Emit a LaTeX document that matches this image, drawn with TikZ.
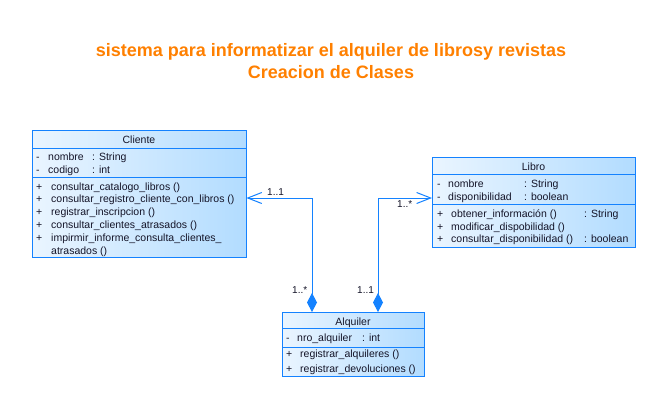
\documentclass[tikz,border=0pt]{standalone}
\usepackage{fontspec}
\setmainfont{Liberation Sans}
\usetikzlibrary{arrows.meta}
\definecolor{umlblue}{RGB}{20,130,255}
\definecolor{boxL}{RGB}{234,245,255}
\definecolor{boxR}{RGB}{178,220,255}
\definecolor{ttl}{RGB}{255,128,0}
\definecolor{txt}{RGB}{20,20,40}
\tikzset{
  comp/.style={draw=umlblue, line width=0.9pt, left color=boxL, right color=boxR},
  classnode/.style={draw=none, inner sep=0pt, anchor=north west},
  tx/.style={anchor=base west, inner sep=0pt, text=txt, font=\fontsize{10.5}{13}\selectfont},
  tc/.style={anchor=base, inner sep=0pt, text=txt, font=\fontsize{10.5}{13}\selectfont},
  mult/.style={anchor=base west, inner sep=0pt, text=txt, font=\fontsize{10}{12}\selectfont},
  ttlstyle/.style={anchor=base, inner sep=0pt, text=ttl, font=\bfseries\fontsize{18}{22}\selectfont},
  assoc/.style={draw=umlblue, line width=1pt,
    {Diamond[length=19pt,width=10pt,fill=umlblue]}-{Straight Barb[length=14pt,width=11pt]}},
}
\begin{document}
\begin{tikzpicture}[x=1pt,y=-1pt]
\useasboundingbox (0,0) rectangle (658,408);
\fill[white] (0,0) rectangle (658,408);

% title
\node[ttlstyle] (t1) at (331,56) {sistema para informatizar el alquiler de librosy revistas};
\node[ttlstyle] (t2) at (331,78) {Creacion de Clases};

% ---- Cliente ----
\path[comp] (32,130) rectangle (246,148);
\path[comp] (32,148) rectangle (246,177);
\path[comp] (32,177) rectangle (246,257);
\node[classnode, minimum width=214pt, minimum height=127pt] (cli) at (32,130) {};
\node[tc] (cliT) at (139,143) {Cliente};
\node[tx] (c1a) at (36,160) {-};
\node[tx] (c1b) at (48,160) {nombre};
\node[tx] (c1c) at (92,160) {: String};
\node[tx] (c2a) at (36,173) {-};
\node[tx] (c2b) at (48,173) {codigo};
\node[tx] (c2c) at (92,173) {: int};
\node[tx] (o1a) at (36,190) {+};
\node[tx] (o1b) at (51,190) {consultar\_catalogo\_libros ()};
\node[tx] (o2a) at (36,202.8) {+};
\node[tx] (o2b) at (51,202.8) {consultar\_registro\_cliente\_con\_libros ()};
\node[tx] (o3a) at (36,215.6) {+};
\node[tx] (o3b) at (51,215.6) {registrar\_inscripcion ()};
\node[tx] (o4a) at (36,228.4) {+};
\node[tx] (o4b) at (51,228.4) {consultar\_clientes\_atrasados ()};
\node[tx] (o5a) at (36,241.2) {+};
\node[tx] (o5b) at (51,241.2) {impirmir\_informe\_consulta\_clientes\_};
\node[tx] (o5c) at (51,254) {atrasados ()};

% ---- Libro ----
\path[comp] (432,157) rectangle (635,174);
\path[comp] (432,174) rectangle (635,204);
\path[comp] (432,204) rectangle (635,247);
\node[classnode, minimum width=203pt, minimum height=90pt] (lib) at (432,157) {};
\node[tc] (libT) at (533.5,170) {Libro};
\node[tx] (l1a) at (437,187) {-};
\node[tx] (l1b) at (448,187) {nombre};
\node[tx] (l1c) at (524,187) {: String};
\node[tx] (l2a) at (437,200) {-};
\node[tx] (l2b) at (448,200) {disponibilidad};
\node[tx] (l2c) at (524,200) {: boolean};
\node[tx] (m1a) at (437,217) {+};
\node[tx] (m1b) at (451,217) {obtener\_información ()};
\node[tx] (m1c) at (584,217) {: String};
\node[tx] (m2a) at (437,230) {+};
\node[tx] (m2b) at (451,230) {modificar\_dispobilidad ()};
\node[tx] (m3a) at (437,242.5) {+};
\node[tx] (m3b) at (451,242.5) {consultar\_disponibilidad ()};
\node[tx] (m3c) at (584,242.5) {: boolean};

% ---- Alquiler ----
\path[comp] (282,312) rectangle (424,328);
\path[comp] (282,328) rectangle (424,347);
\path[comp] (282,347) rectangle (424,376);
\node[classnode, minimum width=142pt, minimum height=64pt] (alq) at (282,312) {};
\node[tc] (alqT) at (353,325) {Alquiler};
\node[tx] (a1a) at (286,341) {-};
\node[tx] (a1b) at (297,341) {nro\_alquiler};
\node[tx] (a1c) at (362,341) {: int};
\node[tx] (p1a) at (286,357) {+};
\node[tx] (p1b) at (300,357) {registrar\_alquileres ()};
\node[tx] (p2a) at (286,372) {+};
\node[tx] (p2b) at (300,372) {registrar\_devoluciones ()};

% ---- associations ----
\coordinate (j1) at (312,198);
\coordinate (j2) at (378,198);
\draw[assoc] ([xshift=30pt]alq.north west) -- (j1) -- (cli.east |- j1);
\draw[assoc] ([xshift=96pt]alq.north west) -- (j2) -- (lib.west |- j2);

\node[mult] (m11) at (267,195.5) {1..1};
\node[mult] (m12) at (292,293) {1..*};
\node[mult] (m13) at (357,293) {1..1};
\node[mult] (m14) at (397,207) {1..*};
\end{tikzpicture}
\end{document}
